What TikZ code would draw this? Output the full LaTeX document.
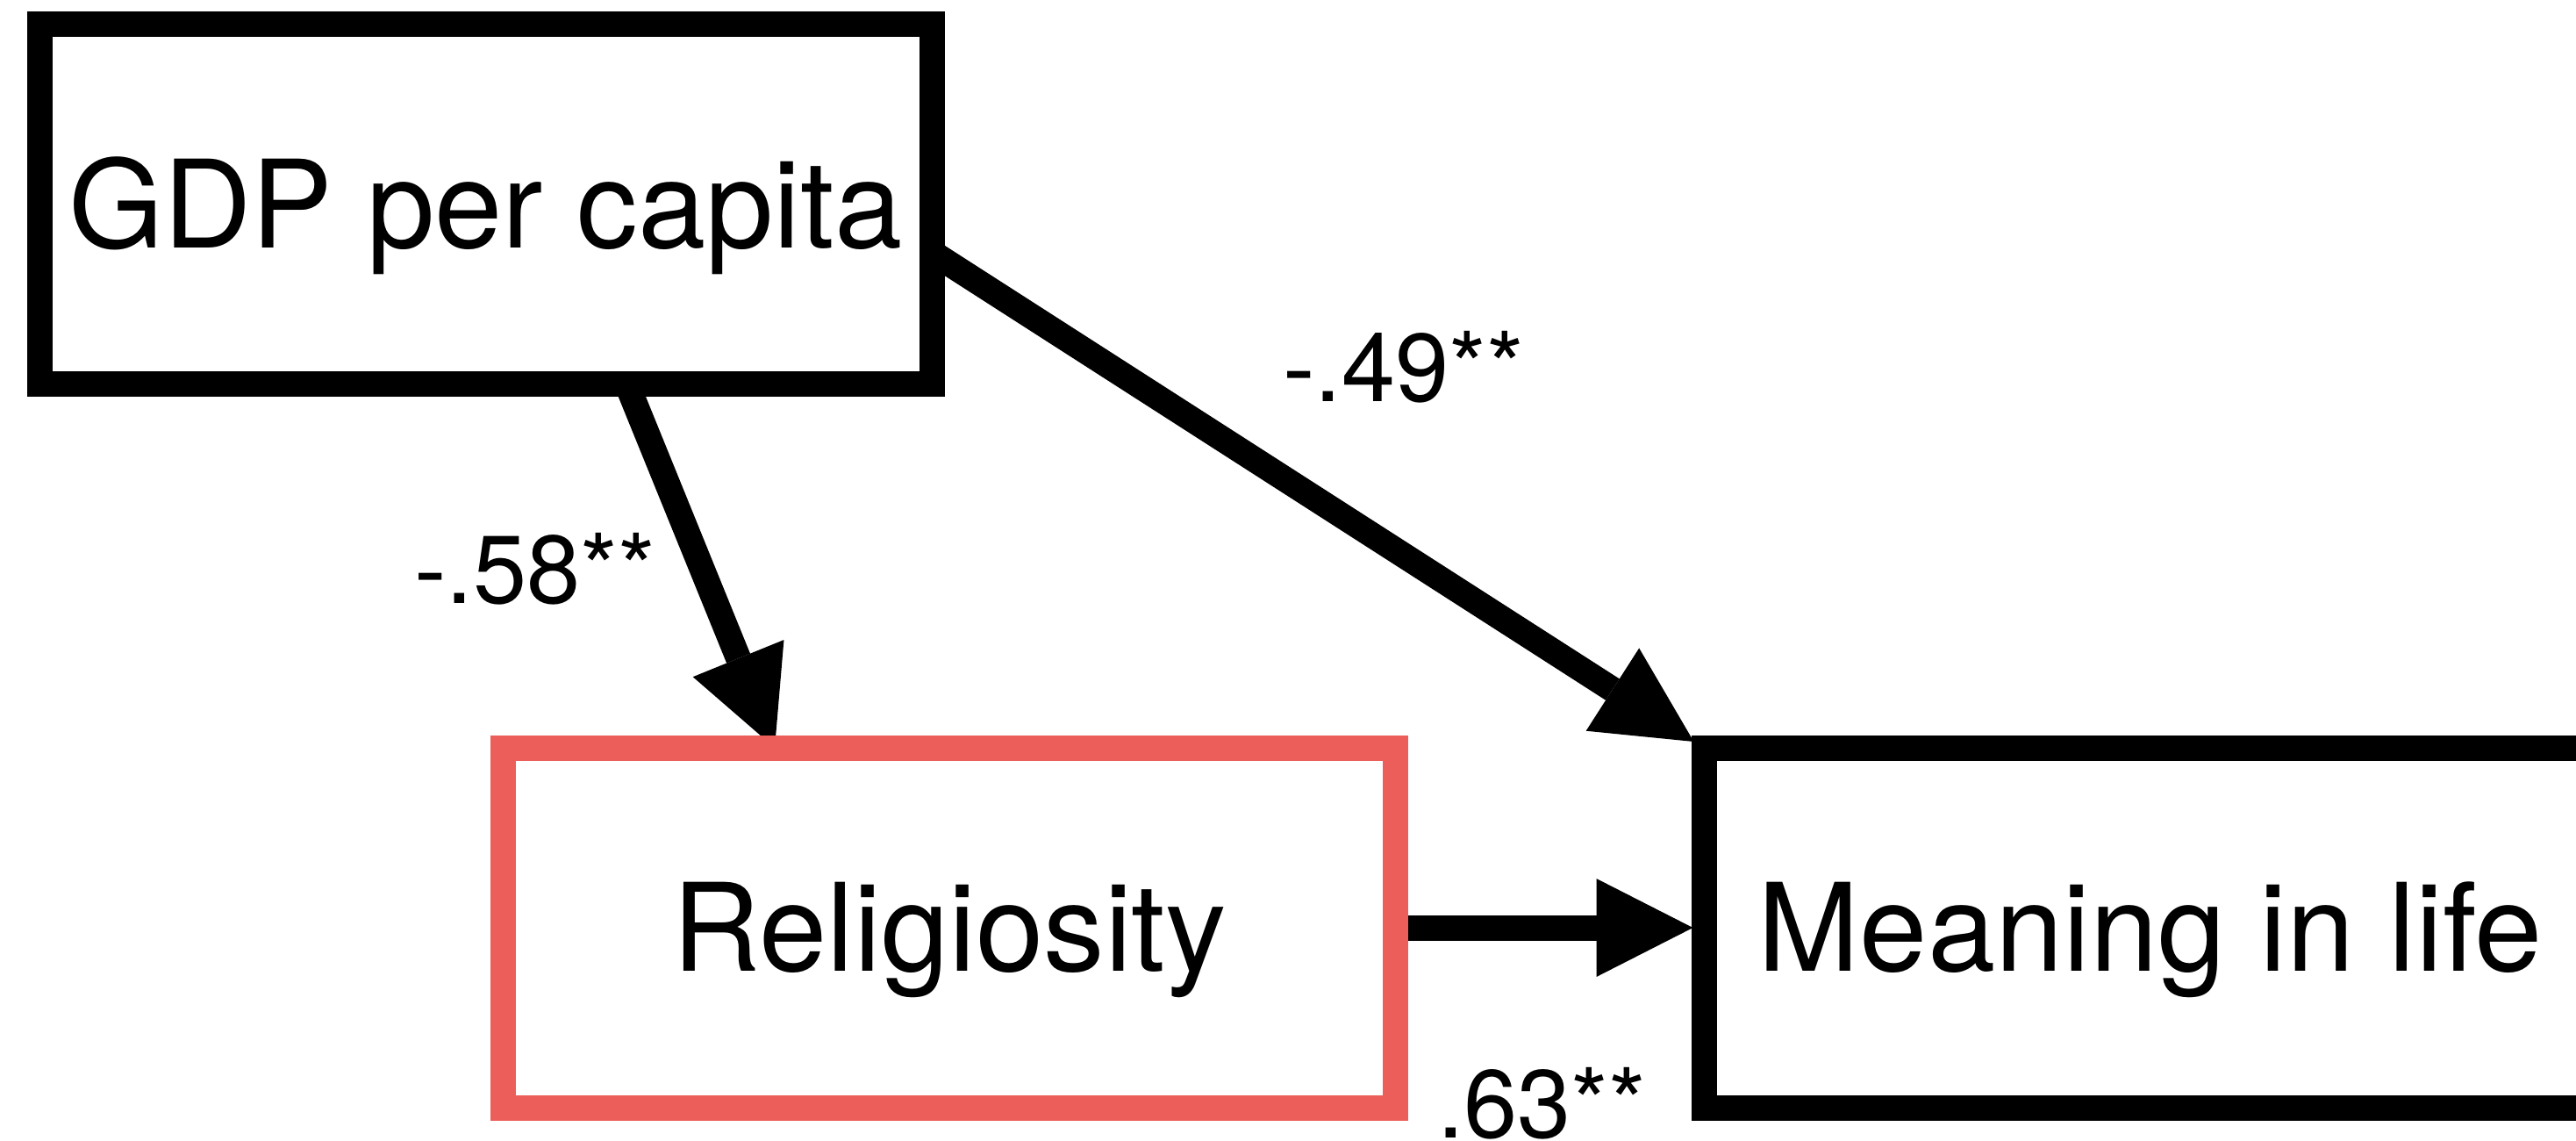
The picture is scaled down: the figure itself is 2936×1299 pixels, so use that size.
\documentclass[tikz,border=0pt]{standalone}
\usepackage{fontspec}
\setmainfont{TeX Gyre Heros}
\usetikzlibrary{arrows.meta,calc}
\definecolor{relred}{RGB}{236,94,89}
\pgfdeclarelayer{bg}
\pgfsetlayers{bg,main}
\begin{document}
\begin{tikzpicture}[x=0.25pt,y=-0.25pt,
  varbox/.style={draw=black, fill=white, line width=7.25pt, minimum width=254.25pt,
    minimum height=102.5pt, inner sep=0pt, outer sep=0pt,
    font=\fontsize{34.75}{40}\selectfont, text height=24.9pt, text depth=0pt},
  coef/.style={anchor=base west, inner sep=0pt, outer sep=0pt,
    font=\fontsize{27.5}{32}\selectfont},
  path/.style={draw=black, line width=7.25pt,
    -{Triangle[length=27.5pt, width=28pt, line width=0pt]}}]
\useasboundingbox (0,0) rectangle (2936,1299);
\node[varbox] (gdp) at (553.5,232.5) {GDP per capita};
\node[varbox, draw=relred] (rel) at (1082,1057) {Religiosity};
\node[varbox] (mean) at (2451,1057) {Meaning in life};
\node[coef] (l1) at (472,687) {-.58**};
\node[coef] (l2) at (1462,457) {-.49**};
\node[coef] (l3) at (1638,1296) {.63**};
\begin{pgfonlayer}{bg}
\draw[path] ($(gdp.south)+(161,0)$) -- ($(rel.north)+(-199,0)$);
\draw[path] ($(gdp.east)+(0,55)$) -- ($(mean.north west)+(-12,-7)$);
\draw[path] (rel.east) -- ($(mean.west)+(-13,0)$);
\end{pgfonlayer}
\end{tikzpicture}
\end{document}
